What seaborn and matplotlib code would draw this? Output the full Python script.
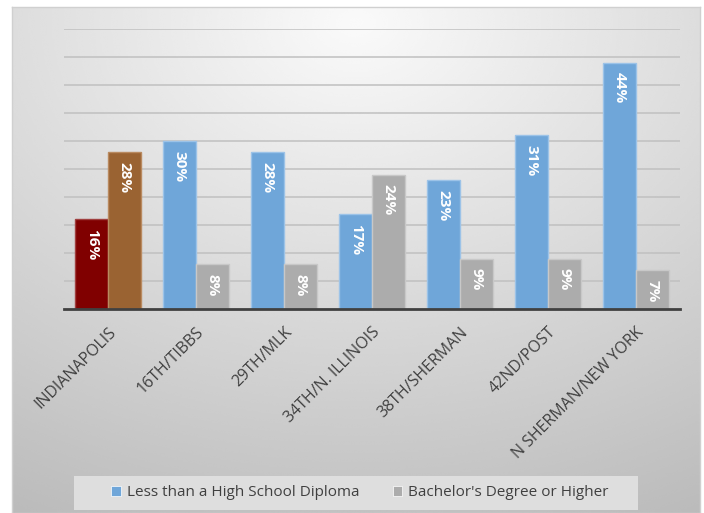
import numpy as np
import pandas as pd
import matplotlib
matplotlib.use("Agg")
import matplotlib.pyplot as plt
from matplotlib.patches import Rectangle
import seaborn as sns

# Neighbourhood education attainment (% of adults 25+)
areas = ["INDIANAPOLIS", "16TH/TIBBS", "29TH/MLK", "34TH/N. ILLINOIS",
         "38TH/SHERMAN", "42ND/POST", "N SHERMAN/NEW YORK"]
less_than_hs = [16, 30, 28, 17, 23, 31, 44]
bachelors_plus = [28, 8, 8, 24, 9, 9, 7]
series_names = ["Less than a High School Diploma", "Bachelor's Degree or Higher"]

df = pd.DataFrame({
    "area": areas * 2,
    "series": [series_names[0]] * len(areas) + [series_names[1]] * len(areas),
    "pct": less_than_hs + bachelors_plus,
})

sns.set_theme(style="white")
plt.rcParams["font.family"] = ["Open Sans", "DejaVu Sans"]

W, H = 704, 513
fig = plt.figure(figsize=(W / 100, H / 100), dpi=100)
fig.patch.set_facecolor("white")

# framed panel with a soft radial grey gradient
bg = fig.add_axes([12 / W, 0, (700 - 12) / W, (H - 7) / H], zorder=0)
yy, xx = np.mgrid[0:1:300j, 0:1:400j]
r = np.sqrt(((xx - 0.5) / 1.0) ** 2 + ((yy - 0.03) / 1.0) ** 2)
shade = np.clip(250 - 58 * r, 0, 255) / 255.0
bg.imshow(shade, cmap="gray", vmin=0, vmax=1, aspect="auto",
          extent=[0, 1, 1, 0], interpolation="bicubic")
bg.set_xlim(0, 1)
bg.set_ylim(1, 0)
bg.set_xticks([])
bg.set_yticks([])
for s in bg.spines.values():
    s.set_color("#d0d0d0")
    s.set_linewidth(1)

ax = fig.add_axes([64 / W, (H - 309) / H, (680 - 64) / W, (309 - 29) / H], zorder=1)
ax.patch.set_alpha(0)

palette = {series_names[0]: "#6fa6d9", series_names[1]: "#acacac"}
sns.barplot(data=df, x="area", y="pct", hue="series", order=areas,
            hue_order=series_names, palette=palette, width=0.74,
            saturation=1, ax=ax, legend=True)

handles, labels = ax.get_legend_handles_labels()
ax.get_legend().remove()

edge_light = {series_names[0]: "#9cc3e8", series_names[1]: "#c8c8c8"}
for cont, name in zip(ax.containers, series_names):
    for bar in cont:
        bar.set_edgecolor(edge_light[name])
        bar.set_linewidth(1.0)

# city-wide reference bars get their own colours
ax.containers[0][0].set_facecolor("#800000")
ax.containers[0][0].set_edgecolor("#a04040")
ax.containers[1][0].set_facecolor("#9a6332")
ax.containers[1][0].set_edgecolor("#b98a60")

# value labels, inside the top of each bar
for cont, vals in zip(ax.containers, [less_than_hs, bachelors_plus]):
    for bar, v in zip(cont, vals):
        ax.annotate(f"{v}%", xy=(bar.get_x() + bar.get_width() / 2, bar.get_height()),
                    xytext=(0, -7), textcoords="offset points",
                    ha="center", va="top", rotation=270,
                    color="white", fontsize=11, fontweight="bold")

ax.set_ylim(0, 50)
ax.set_xlim(-0.5, len(areas) - 0.5)
ax.set_yticks(np.arange(5, 51, 5))
ax.yaxis.grid(True, color="#c0c0c0", linewidth=1.1)
ax.set_axisbelow(True)
ax.tick_params(axis="y", left=False, labelleft=False)
ax.tick_params(axis="x", bottom=False, pad=5)
ax.set_xlabel("")
ax.set_ylabel("")
for side in ("top", "right", "left"):
    ax.spines[side].set_visible(False)
ax.spines["bottom"].set_color("#404040")
ax.spines["bottom"].set_linewidth(2)

for lab in ax.get_xticklabels():
    lab.set_rotation(45)
    lab.set_ha("right")
    lab.set_rotation_mode("anchor")
    lab.set_fontsize(11.5)
    lab.set_color("#404040")

# legend strip along the bottom
fig.patches.append(Rectangle((74 / W, (H - 510) / H), (638 - 74) / W, 34 / H,
                             transform=fig.transFigure, facecolor="#dedede",
                             edgecolor="none", zorder=1))
leg = fig.legend(handles, labels, loc="center", bbox_to_anchor=(360 / W, (H - 493) / H),
                 ncol=2, frameon=False, fontsize=11, handlelength=0.6,
                 handleheight=0.6, handletextpad=0.4, columnspacing=2.2,
                 labelcolor="#404040")
for hnd in leg.legend_handles:
    hnd.set_edgecolor("white")
    hnd.set_linewidth(0.5)

fig.savefig("out.png", dpi=100)
